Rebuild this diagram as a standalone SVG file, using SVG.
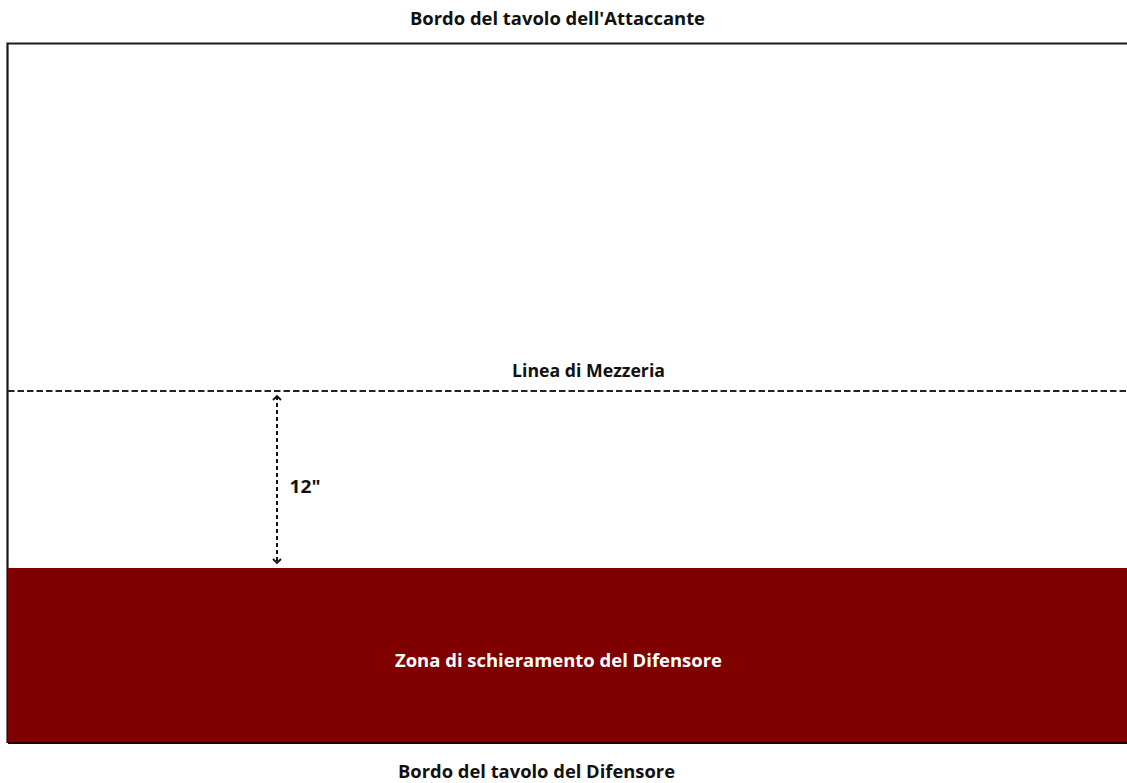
<svg xmlns="http://www.w3.org/2000/svg" width="1127" height="783" viewBox="0 0 1127 783">
<style>
.t{font-family:"Open Sans","Liberation Sans",sans-serif;font-weight:bold;font-size:18px;fill:#111;text-anchor:middle}
.w{fill:#fff}
</style>
<defs>
<marker id="ah" viewBox="0 0 10 10" refX="5" refY="5" markerWidth="10" markerHeight="10" orient="auto-start-reverse" markerUnits="userSpaceOnUse">
<path d="M1,1 L5,5 L1,9" fill="none" stroke="#111" stroke-width="1.8"/>
</marker>
</defs>
<rect width="1127" height="783" fill="#fff"/>
<g id="table">
<path d="M1128,43.5 H7.5 V743" fill="none" stroke="#1a1a1a" stroke-width="2.2"/>
</g>
<g id="deploy-zone">
<rect x="8" y="568" width="1120" height="175" fill="#800000"/>
<line x1="8" y1="743" x2="1128" y2="743" stroke="#2a0000" stroke-width="2"/>
<text class="t w" x="558.5" y="667" textLength="327" lengthAdjust="spacingAndGlyphs">Zona di schieramento del Difensore</text>
</g>
<g id="midline">
<line x1="8" y1="391" x2="1127" y2="391" stroke="#222" stroke-width="2" stroke-dasharray="6.5,3"/>
<text class="t" x="588.5" y="377" textLength="153" lengthAdjust="spacingAndGlyphs">Linea di Mezzeria</text>
</g>
<g id="connectors">
<line x1="277" y1="396" x2="277" y2="563" stroke="#111" stroke-width="2" stroke-dasharray="4,3" marker-start="url(#ah)" marker-end="url(#ah)"/>
</g>
<g id="labels">
<text class="t" x="557.5" y="25" textLength="295" lengthAdjust="spacingAndGlyphs">Bordo del tavolo dell'Attaccante</text>
<text class="t" x="305" y="493" textLength="31" lengthAdjust="spacingAndGlyphs">12"</text>
<text class="t" x="536.5" y="778" textLength="277" lengthAdjust="spacingAndGlyphs">Bordo del tavolo del Difensore</text>
</g>
</svg>
